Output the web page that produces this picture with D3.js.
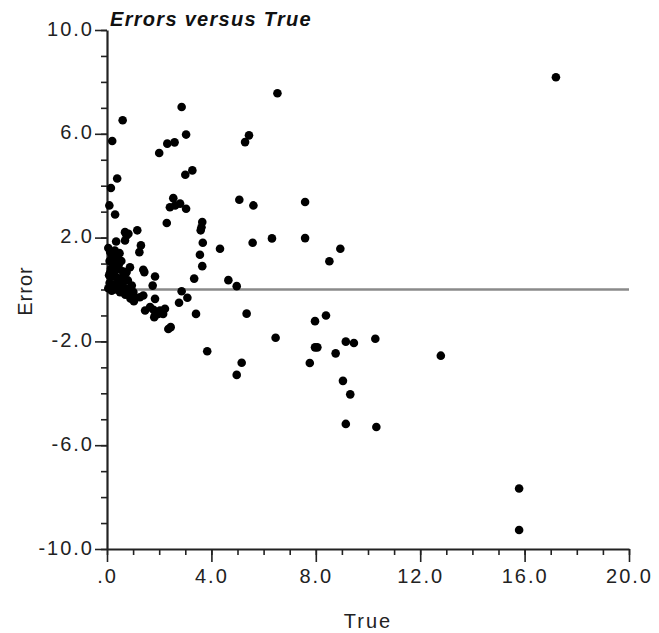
<!DOCTYPE html>
<html>
<head>
<meta charset="utf-8">
<script src="https://cdn.jsdelivr.net/npm/d3@7"></script>
<style>
  body { margin: 0; background: #fff; }
  svg { display: block; font-family: "Liberation Sans", Arial, sans-serif; }
  .tick text { font-size: 20px; letter-spacing: 2px; fill: #222; }
</style>
</head>
<body>
<div id="chart"></div>
<script>
// Errors versus True scatter

const trueVals = [
  0.60, 0.20, 0.39, 0.15, 0.09, 0.31,
  2.86, 3.03, 2.31, 2.59, 2.00, 3.00, 3.27,
  2.54, 2.41, 2.61, 2.80, 3.03, 2.29, 3.65, 3.62, 3.59, 3.67, 4.33, 3.56, 3.65, 3.34,
  4.65, 4.97, 6.53, 5.44, 5.29, 5.07, 5.61, 5.58, 6.32,
  7.59, 7.59, 8.52, 8.94, 17.2,
  0.69, 0.75, 0.82, 1.16, 0.35, 0.69, 1.30, 1.24, 1.39, 1.43, 1.84, 1.75, 0.88, 0.75,
  0.05, 0.12, 0.20, 0.30, 0.38, 0.10, 0.25, 0.45, 0.55, 0.15, 0.35, 0.60, 0.08, 0.22, 0.40,
  0.52, 0.10, 0.28, 0.45, 0.62, 0.05, 0.18, 0.35, 0.50, 0.70, 0.12, 0.30, 0.48, 0.65, 0.80,
  0.70, 0.85, 0.90,
  0.95, 1.01, 1.07, 1.03, 1.26, 1.39, 1.84, 1.46, 1.65, 1.78, 1.90, 2.03, 2.22, 1.84, 1.96,
  2.15, 1.81, 2.35, 2.44, 2.86, 3.08, 2.76, 3.41, 3.84, 5.35, 6.46, 5.16, 4.97,
  7.97, 8.39, 7.97, 8.06, 7.77, 8.76, 9.15, 9.46, 10.28, 12.79, 9.04, 9.32, 9.15, 10.32,
  15.79, 15.79
];

const errorVals = [
  6.52, 5.72, 4.28, 3.91, 3.24, 2.89,
  7.03, 5.97, 5.62, 5.67, 5.26, 4.42, 4.59,
  3.52, 3.17, 3.24, 3.31, 3.11, 2.56, 2.60, 2.40, 2.28, 1.80, 1.57, 1.34, 0.90, 0.42,
  0.36, 0.13, 7.56, 5.94, 5.68, 3.46, 3.24, 1.80, 1.97,
  3.37, 1.98, 1.09, 1.57, 8.18,
  2.21, 2.08, 2.15, 2.28, 1.85, 1.89, 1.70, 1.44, 0.76, 0.67, 0.50, 0.15, 0.86, 0.67,
  1.60, 1.45, 1.30, 1.50, 1.20, 1.10, 1.00, 0.95, 1.10, 0.80, 0.75, 0.70, 0.55, 0.50, 0.45,
  0.40, 0.25, 0.20, 0.15, 0.30, 0.05, -0.05, 0.00, -0.10, 0.05, 0.65, 1.35, 1.40, 0.50, 0.35,
  -0.20, -0.05, -0.35,
  0.15, -0.10, -0.30, -0.45, -0.30, -0.23, -0.36, -0.81, -0.68, -0.78, -0.87, -0.81, -0.74, -1.00, -0.94,
  -0.94, -1.07, -1.52, -1.45, -0.07, -0.32, -0.51, -0.94, -2.38, -0.93, -1.86, -2.82, -3.29,
  -1.22, -1.00, -2.23, -2.23, -2.83, -2.46, -2.01, -2.06, -1.90, -2.55, -3.52, -4.04, -5.18, -5.30,
  -7.67, -9.27
];

const xMajor = [0, 4, 8, 12, 16, 20];
const yMajor = [-10, -6, -2, 2, 6, 10];
const xMinor = d3.range(0, 21, 1);
const yMinor = d3.range(-10, 11, 1);

const titleText = "Errors versus True";
const xTitle = "True";
const yTitle = "Error";

const WIDTH = 659, HEIGHT = 633;
const svg = d3.select("#chart").append("svg")
  .attr("width", WIDTH).attr("height", HEIGHT);

const x = d3.scaleLinear().domain([0, 20]).range([107, 629]);
const y = d3.scaleLinear().domain([-10, 10]).range([549, 30]);

const fmt = d => d === 0 ? ".0" : d.toFixed(1);

// minor ticks
svg.append("g").attr("transform", `translate(0,${y(-10)})`)
  .call(d3.axisBottom(x).tickValues(xMinor).tickSize(6).tickFormat(""))
  .call(g => g.select(".domain").remove());
svg.append("g").attr("transform", `translate(${x(0)},0)`)
  .call(d3.axisLeft(y).tickValues(yMinor).tickSize(6).tickFormat(""))
  .call(g => g.select(".domain").remove());

// major axes
const xAxis = svg.append("g").attr("transform", `translate(0,${y(-10)})`)
  .call(d3.axisBottom(x).tickValues(xMajor).tickSize(13).tickSizeOuter(0).tickFormat(fmt).tickPadding(7));
const yAxis = svg.append("g").attr("transform", `translate(${x(0)},0)`)
  .call(d3.axisLeft(y).tickValues(yMajor).tickSize(12).tickSizeOuter(0).tickFormat(fmt).tickPadding(1));

svg.selectAll(".tick line").attr("stroke", "#222").attr("stroke-width", 1.6);
svg.selectAll(".domain").attr("stroke", "#222").attr("stroke-width", 2.2);
yAxis.selectAll(".tick text").attr("dy", "0.25em");

// zero reference line
svg.append("line")
  .attr("x1", x(0)).attr("x2", x(20))
  .attr("y1", y(0)).attr("y2", y(0))
  .attr("stroke", "#8a8a8a").attr("stroke-width", 2.4);

// points
svg.append("g").selectAll("circle")
  .data(d3.zip(trueVals, errorVals))
  .join("circle")
    .attr("cx", d => x(d[0]))
    .attr("cy", d => y(d[1]))
    .attr("r", 4.3)
    .attr("fill", "#000");

// titles
svg.append("text")
  .attr("x", 110).attr("y", 26)
  .attr("font-size", 20).attr("font-weight", "bold").attr("font-style", "italic")
  .attr("letter-spacing", "1.3px").attr("fill", "#111")
  .text(titleText);

svg.append("text")
  .attr("x", 368).attr("y", 628)
  .attr("text-anchor", "middle").attr("font-size", 20).attr("letter-spacing", "2px")
  .attr("fill", "#222")
  .text(xTitle);

svg.append("text")
  .attr("transform", `translate(32,291) rotate(-90)`)
  .attr("text-anchor", "middle").attr("font-size", 20).attr("letter-spacing", "1px")
  .attr("fill", "#222")
  .text(yTitle);
</script>
</body>
</html>
